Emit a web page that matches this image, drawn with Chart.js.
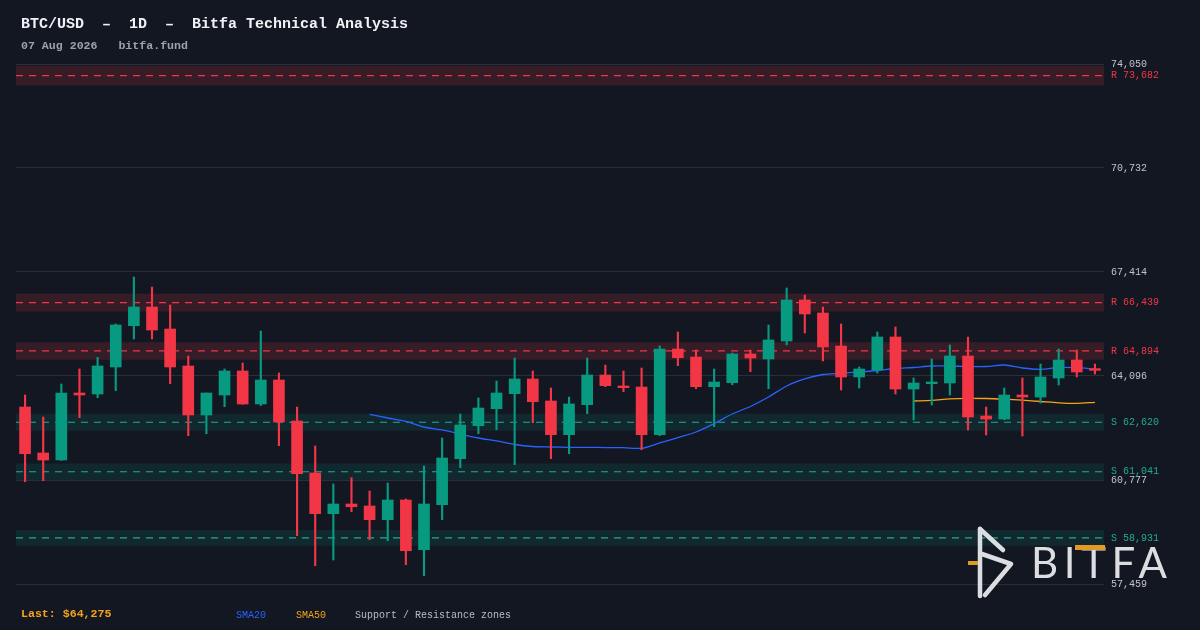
<!DOCTYPE html>
<html>
<head>
<meta charset="utf-8">
<title>BTC/USD 1D - Bitfa Technical Analysis</title>
<script src="https://cdn.jsdelivr.net/npm/chart.js@4.4.1/dist/chart.umd.min.js"></script>
<style>
  html, body { margin: 0; padding: 0; background: #131722; }
  #wrap { position: relative; width: 1200px; height: 630px; overflow: hidden; }
  #chart { position: absolute; left: 0; top: 0; }
  .txt { position: absolute; white-space: pre; font-family: 'Liberation Mono', 'DejaVu Sans Mono', monospace; }
  #logo { position: absolute; left: 0; top: 0; pointer-events: none; }
</style>
</head>
<body>
<div id="wrap">
  <canvas id="chart" width="1200" height="630"></canvas>
  <div class="txt" style="left:21px;top:17px;font-size:15px;line-height:15px;font-weight:bold;color:#f0f2f5">BTC/USD  –  1D  –  Bitfa Technical Analysis</div>
  <div class="txt" style="left:21px;top:40px;font-size:11.6px;line-height:12px;font-weight:bold;color:#9da1ab">07 Aug 2026   bitfa.fund</div>
  <div class="txt" style="left:21px;top:608px;font-size:11.6px;line-height:12px;font-weight:bold;color:#f7a21b">Last: $64,275</div>
  <div class="txt" style="left:236px;top:611px;font-size:10px;line-height:10px;color:#2962ff">SMA20</div>
  <div class="txt" style="left:296px;top:611px;font-size:10px;line-height:10px;color:#f7a21b">SMA50</div>
  <div class="txt" style="left:355px;top:611px;font-size:10px;line-height:10px;color:#b8bcc5">Support / Resistance zones</div>
  <svg id="logo" width="1200" height="630">
    <g stroke="#dcdde0" stroke-width="4.5" stroke-linecap="round" stroke-linejoin="round" fill="none">
      <path d="M980 529 L980 596"/>
      <path d="M980 529 L1003 550"/>
      <path d="M982 554 L1011 564 L985 595"/>
    </g>
    <rect x="968" y="561" width="10" height="4" fill="#e09a25"/>
    <text x="1031" y="578" font-family="Lato, 'Noto Sans', sans-serif" font-size="42" font-weight="400" fill="#dcdde0" textLength="136" lengthAdjust="spacing">BITFA</text>
    <rect x="1075" y="545" width="30" height="5" fill="#e09a25"/>
  </svg>
</div>
<script>
// daily candles, 09 Jun 2026 .. 07 Aug 2026
const dates = [
  '09 Jun', '10 Jun', '11 Jun', '12 Jun', '13 Jun', '14 Jun', '15 Jun', '16 Jun', '17 Jun', '18 Jun',
  '19 Jun', '20 Jun', '21 Jun', '22 Jun', '23 Jun', '24 Jun', '25 Jun', '26 Jun', '27 Jun', '28 Jun',
  '29 Jun', '30 Jun', '01 Jul', '02 Jul', '03 Jul', '04 Jul', '05 Jul', '06 Jul', '07 Jul', '08 Jul',
  '09 Jul', '10 Jul', '11 Jul', '12 Jul', '13 Jul', '14 Jul', '15 Jul', '16 Jul', '17 Jul', '18 Jul',
  '19 Jul', '20 Jul', '21 Jul', '22 Jul', '23 Jul', '24 Jul', '25 Jul', '26 Jul', '27 Jul', '28 Jul',
  '29 Jul', '30 Jul', '31 Jul', '01 Aug', '02 Aug', '03 Aug', '04 Aug', '05 Aug', '06 Aug', '07 Aug'
];

const opens = [
  63106, 61639, 61415, 63553, 63521, 64383, 65700, 66297, 65595, 64415,
  62851, 63489, 64255, 63202, 63968, 62660, 61001, 59702, 60011, 59948,
  59511, 60139, 58553, 59989, 61457, 62510, 63052, 63531, 64000, 63298,
  62223, 63180, 64127, 63776, 63744, 62223, 64957, 64702, 63754, 63882,
  64797, 64638, 65212, 66520, 66106, 65053, 64064, 64287, 65340, 63681,
  63850, 63872, 64734, 62819, 62723, 63489, 63425, 64032, 64606, 64330
];
const highs = [
  63489, 62787, 63840, 64319, 64692, 65755, 67254, 66935, 66361, 64734,
  63553, 64319, 64510, 65531, 64191, 63106, 61862, 60650, 60851, 60426,
  60682, 60171, 61224, 62117, 62883, 63394, 63936, 64670, 64255, 63713,
  63425, 64670, 64446, 64255, 64351, 65053, 65499, 64925, 64319, 64829,
  64925, 65723, 66903, 66680, 66297, 65755, 64383, 65499, 65659, 64032,
  64638, 65085, 65340, 63106, 63713, 64032, 64478, 64957, 64925, 64478
];
const lows = [
  60723, 60755, 61400, 62765, 63403, 63626, 65276, 65276, 63850, 62191,
  62254, 63116, 63190, 63150, 61872, 59000, 58043, 58225, 59766, 58872,
  58841, 58075, 57724, 59511, 61170, 62254, 62382, 61265, 62605, 61457,
  61616, 62893, 63754, 63595, 61744, 62191, 64424, 63690, 62478, 63818,
  64233, 63690, 65085, 65467, 64574, 63649, 63713, 64191, 63521, 62692,
  63170, 63489, 62373, 62213, 62700, 62181, 63234, 63808, 64064, 64159
];
const closes = [
  61616, 61415, 63553, 63489, 64415, 65723, 66297, 65563, 64383, 62851,
  63553, 64255, 63202, 63968, 62628, 60978, 59702, 60011, 59925, 59511,
  60139, 58521, 60011, 61479, 62532, 63074, 63553, 64000, 63276, 62223,
  63202, 64127, 63786, 63722, 62223, 64957, 64679, 63754, 63904, 64797,
  64670, 65244, 66520, 66074, 65021, 64064, 64319, 65340, 63681, 63872,
  63904, 64734, 62787, 62723, 63489, 63425, 64064, 64606, 64223, 64275
];

const sma20 = [
  null, null, null, null, null, null, null, null, null, null,
  null, null, null, null, null, null, null, null, null, 62873,
  62755, 62644, 62468, 62373, 62245, 62117, 62022, 61910, 61846, 61830,
  61820, 61820, 61813, 61808, 61789, 61958, 62133, 62309, 62580, 62883,
  63122, 63425, 63776, 64000, 64143, 64182, 64223, 64271, 64335, 64367,
  64415, 64415, 64399, 64399, 64446, 64351, 64309, 64367, 64360, 64319
];
const sma50 = [
  null, null, null, null, null, null, null, null, null, null,
  null, null, null, null, null, null, null, null, null, null,
  null, null, null, null, null, null, null, null, null, null,
  null, null, null, null, null, null, null, null, null, null,
  null, null, null, null, null, null, null, null, null, 63298,
  63320, 63368, 63384, 63378, 63355, 63323, 63282, 63240, 63224, 63256
];

const resistance = [73682, 66439, 64894];
const support = [62620, 61041, 58931];

const yTicks = [57459, 60777, 64096, 67414, 70732, 74050];

const UP = '#089981';
const DOWN = '#f23645';
const ZONE_PCT = 0.0043;
const MONO = "'Liberation Mono', 'DejaVu Sans Mono', monospace";

const bodyColors = opens.map((o, i) => closes[i] >= o ? UP : DOWN);
const fmt = v => Math.round(v).toLocaleString('en-US');

const zonePlugin = {
  id: 'zones',
  beforeDatasetsDraw(chart) {
    const { ctx, chartArea: a, scales: { y } } = chart;
    const draw = (levels, fill, stroke) => {
      levels.forEach(lv => {
        const top = y.getPixelForValue(lv * (1 + ZONE_PCT));
        const bot = y.getPixelForValue(lv * (1 - ZONE_PCT));
        const mid = y.getPixelForValue(lv);
        ctx.save();
        ctx.fillStyle = fill;
        ctx.fillRect(a.left, top, a.right - a.left, bot - top);
        ctx.strokeStyle = stroke;
        ctx.lineWidth = 1.2;
        ctx.setLineDash([7, 6]);
        ctx.beginPath();
        ctx.moveTo(a.left, mid);
        ctx.lineTo(a.right, mid);
        ctx.stroke();
        ctx.restore();
      });
    };
    draw(resistance, 'rgba(242,54,69,0.16)', DOWN);
    draw(support, 'rgba(8,153,129,0.13)', '#22ab94');
  },
  afterDraw(chart) {
    const { ctx, chartArea: a, scales: { y } } = chart;
    ctx.save();
    ctx.font = '10px ' + MONO;
    ctx.textBaseline = 'middle';
    ctx.textAlign = 'left';
    ctx.fillStyle = DOWN;
    resistance.forEach(lv => ctx.fillText('R ' + fmt(lv), a.right + 7, y.getPixelForValue(lv)));
    ctx.fillStyle = '#22ab94';
    support.forEach(lv => ctx.fillText('S ' + fmt(lv), a.right + 7, y.getPixelForValue(lv)));
    ctx.restore();
  }
};

const ctx = document.getElementById('chart').getContext('2d');
new Chart(ctx, {
  type: 'bar',
  data: {
    labels: dates,
    datasets: [
      {
        type: 'bar',
        label: 'Body',
        data: opens.map((o, i) => [o, closes[i]]),
        backgroundColor: bodyColors,
        barThickness: 11,
        grouped: false,
        order: 1
      },
      {
        type: 'bar',
        label: 'Wick',
        data: lows.map((l, i) => [l, highs[i]]),
        backgroundColor: bodyColors,
        barThickness: 1.5,
        grouped: false,
        order: 2
      },
      {
        type: 'line',
        label: 'SMA20',
        data: sma20,
        borderColor: '#2962ff',
        borderWidth: 1.3,
        pointRadius: 0,
        tension: 0.3,
        order: 3
      },
      {
        type: 'line',
        label: 'SMA50',
        data: sma50,
        borderColor: '#f7a21b',
        borderWidth: 1.3,
        pointRadius: 0,
        tension: 0.3,
        order: 4
      }
    ]
  },
  options: {
    responsive: false,
    animation: false,
    layout: { padding: { left: 16, top: 64, bottom: 46, right: 0 } },
    plugins: {
      legend: { display: false },
      tooltip: { enabled: false }
    },
    scales: {
      x: { display: false },
      y: {
        position: 'right',
        min: 57459,
        max: 74050,
        afterBuildTicks: s => { s.ticks = yTicks.map(v => ({ value: v })); },
        afterFit: s => { s.width = 96; },
        grid: { color: '#2a2e39', drawTicks: false },
        border: { display: false },
        ticks: {
          padding: 7,
          color: '#c0c3cb',
          font: { family: MONO, size: 10 },
          callback: v => fmt(v)
        }
      }
    }
  },
  plugins: [zonePlugin]
});
</script>
</body>
</html>
